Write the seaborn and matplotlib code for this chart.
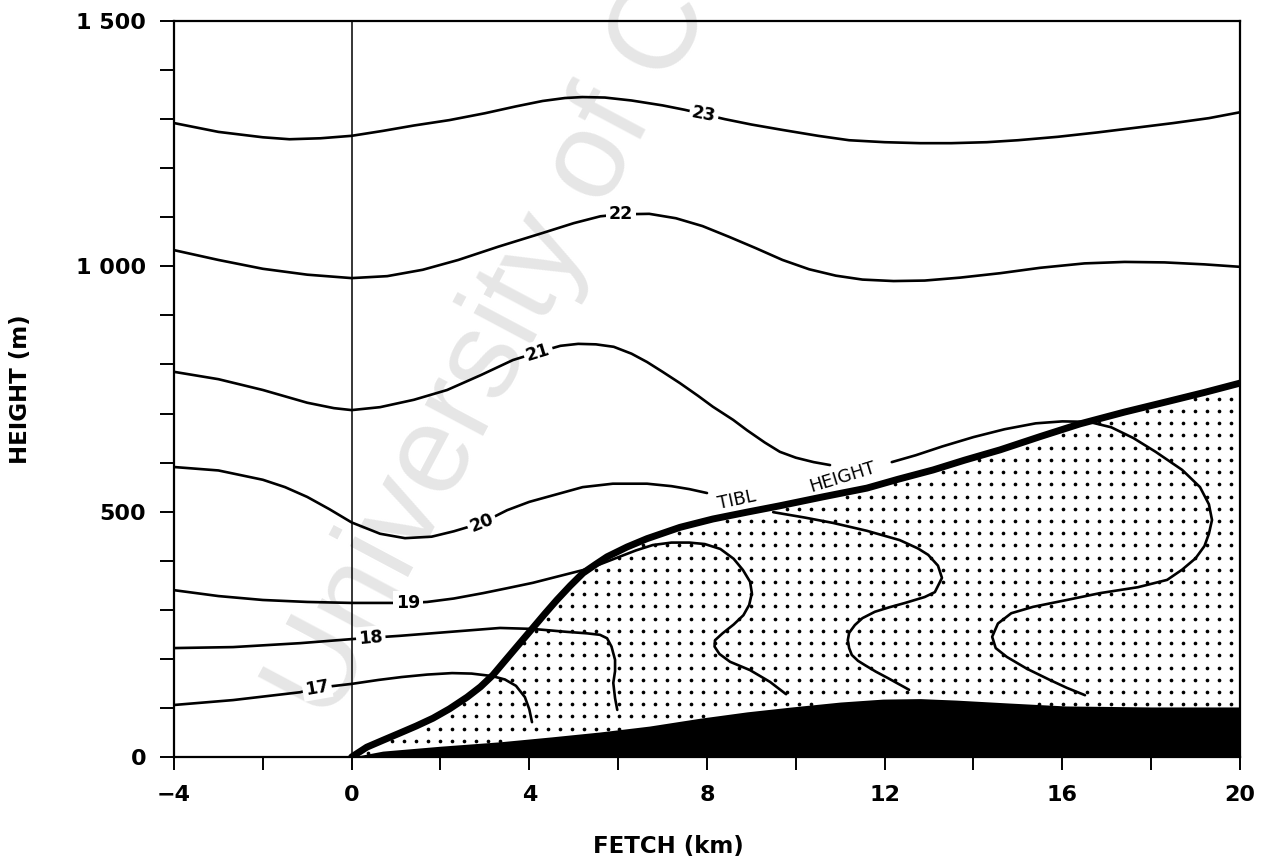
import numpy as np
import matplotlib
matplotlib.use('Agg')
import matplotlib.pyplot as plt
import seaborn as sns
from matplotlib.ticker import MultipleLocator

# ---------------- data (fetch km, height m) ----------------
iso23_x = [-4, -3, -2, -1.4, -0.7, 0, 0.7, 1.4, 2.2, 3.0, 3.7, 4.3, 4.8, 5.2, 5.7, 6.3, 7.0, 7.5, 8.4, 9.0,
           9.7, 10.5, 11.2, 12.0, 12.8, 13.5, 14.3, 15.0, 15.9, 16.8, 17.7, 18.5, 19.3, 20]
iso23_y = [1292, 1274, 1263, 1259, 1261, 1266, 1276, 1287, 1298, 1312, 1326, 1337, 1343, 1345, 1344, 1338, 1328,
           1319, 1300, 1289, 1278, 1266, 1257, 1253, 1251, 1251, 1253, 1257, 1264, 1273, 1283, 1292, 1302, 1314]

iso22_x = [-4, -3, -2, -1, 0, 0.8, 1.6, 2.4, 3.3, 4.3, 5.0, 5.6, 6.06, 6.7, 7.3, 7.9, 8.5, 9.1, 9.7, 10.3,
           10.9, 11.5, 12.2, 12.9, 13.7, 14.6, 15.5, 16.5, 17.4, 18.3, 19.2, 20]
iso22_y = [1033, 1013, 995, 983, 976, 980, 993, 1013, 1040, 1068, 1088, 1102, 1106, 1107, 1098, 1082, 1060, 1037,
           1013, 994, 981, 973, 970, 971, 977, 986, 997, 1006, 1009, 1008, 1004, 999]

iso21a_x = [-4, -3, -2, -1, -0.4, 0, 0.64, 1.4, 2.15, 2.9, 3.63, 4.2, 4.7, 5.1, 5.5, 5.9, 6.3, 6.65, 7.0, 7.39,
            7.8, 8.13, 8.59, 8.9, 9.3, 9.64, 10.0, 10.4, 10.77]
iso21a_y = [785, 770, 748, 722, 711, 707, 713, 728, 748, 778, 809, 825, 838, 842, 841, 836, 822, 805, 785, 762,
            736, 714, 687, 666, 641, 622, 610, 601, 595]
iso21b_x = [12.16, 12.7, 13.3, 14.0, 14.7, 15.4, 16.0, 16.6, 17.1, 17.6, 18.1, 18.7, 19.1, 19.3, 19.37, 19.3,
            19.2, 19.0, 18.7, 18.36, 17.7, 16.85, 16.1, 15.34, 14.85, 14.55, 14.42, 14.5, 14.75, 15.2, 15.72,
            16.1, 16.51]
iso21b_y = [601, 615, 633, 652, 668, 680, 684, 683, 672, 650, 622, 585, 550, 515, 483, 455, 430, 405, 382, 361,
            346, 334, 320, 306, 293, 272, 245, 222, 204, 180, 157, 141, 126]

iso20a_x = [-4, -3, -2, -1.5, -1, -0.5, 0, 0.64, 1.2, 1.8, 2.3, 2.93, 3.5, 4.0, 4.4, 4.8, 5.2, 5.88, 6.65,
            7.2, 7.6, 8.0]
iso20a_y = [591, 584, 565, 550, 530, 505, 478, 455, 446, 449, 460, 477, 503, 520, 530, 540, 550, 557, 557,
            552, 546, 538]
iso20b_x = [9.49, 10.2, 10.84, 11.6, 12.34, 12.75, 12.98, 13.2, 13.29, 13.13, 12.9, 12.46, 12.1, 11.78, 11.5,
            11.33, 11.2, 11.17, 11.2, 11.26, 11.4, 11.56, 11.8, 12.07, 12.55]
iso20b_y = [499, 488, 477, 461, 442, 425, 412, 390, 365, 336, 326, 314, 305, 296, 283, 269, 253, 238, 222,
            208, 196, 187, 174, 161, 137]

iso19_x = [-4, -3, -2, -1, 0, 0.8, 1.3, 1.7, 2.3, 2.96, 3.5, 4.08, 4.6, 5.21, 5.6, 5.97, 6.4, 6.78, 7.2, 7.6,
           7.95, 8.3, 8.6, 8.81, 8.97, 9.01, 8.95, 8.82, 8.6, 8.35, 8.18, 8.17, 8.28, 8.52, 8.97, 9.42, 9.78]
iso19_y = [340, 328, 320, 316, 314, 314, 314, 316, 323, 334, 344, 355, 367, 381, 393, 406, 421, 432, 437, 437,
           434, 424, 404, 381, 357, 334, 310, 289, 270, 252, 238, 225, 210, 194, 177, 153, 128]

iso18_x = [-4, -2.67, -1.16, -0.04, 0.43, 1.09, 2.21, 3.34, 4.08, 4.85, 5.3, 5.59, 5.75, 5.85, 5.93, 5.93,
           5.89, 5.93, 5.98]
iso18_y = [222, 224, 232, 240, 243, 247, 255, 263, 261, 255, 252, 249, 242, 225, 198, 175, 151, 120, 96]

iso17_x = [-4, -2.67, -1.16, -0.78, -0.38, 0, 0.6, 1.13, 1.7, 2.26, 2.7, 3.16, 3.45, 3.7, 3.9, 4.0, 4.06]
iso17_y = [106, 116, 132, 141, 145, 149, 157, 163, 168, 171, 170, 165, 158, 145, 122, 97, 71]

tibl_x = [0, 0.34, 0.7, 1.09, 1.45, 1.83, 2.2, 2.6, 2.9, 3.18, 3.45, 3.75, 4.06, 4.35, 4.62, 4.92, 5.21, 5.5,
          5.75, 6.2, 6.65, 7.39, 8.13, 8.9, 9.64, 10.6, 11.6, 12.3, 13.09, 13.8, 14.6, 15.5, 16.4, 17.4, 18.35,
          19.2, 20.0]
tibl_y = [0, 20, 34, 49, 63, 79, 98, 122, 143, 167, 196, 228, 261, 292, 320, 349, 375, 393, 408, 428, 445,
          468, 485, 499, 512, 530, 548, 566, 585, 605, 626, 653, 679, 703, 724, 743, 762]

ground_x = [0, 0.7, 2.0, 3.34, 4.5, 5.59, 6.7, 7.84, 8.9, 9.91, 11.0, 11.96, 12.8, 13.6, 14.8, 16.08, 18.0, 20.0]
ground_y = [0, 12, 22, 31, 41, 51, 63, 79, 92, 102, 112, 118, 119, 116, 110, 104, 102, 102]

# contour labels: text, x, y, rotation
label_text = ['23', '22', '21', '20', '19', '18', '17']
label_x = [7.93, 6.06, 4.2, 2.93, 1.27, 0.43, -0.78]
label_y = [1309, 1106, 825, 477, 314, 243, 141]
label_rot = [-11, 0, 17, 22, 0, 5, 10]

xtick_vals = [-4, 0, 4, 8, 12, 16, 20]
xtick_text = ['\u22124', '0', '4', '8', '12', '16', '20']
ytick_vals = [0, 500, 1000, 1500]
ytick_text = ['0', '500', '1 000', '1 500']

# ---------------- style ----------------
sns.set_theme(style='ticks')
plt.rcParams['font.family'] = ['DejaVu Sans']
plt.rcParams['text.color'] = 'black'
plt.rcParams['axes.labelcolor'] = 'black'
plt.rcParams['axes.edgecolor'] = 'black'
plt.rcParams['axes.linewidth'] = 1.6

fig = plt.figure(figsize=(12.75, 8.61), dpi=100)
ax = fig.add_axes([174 / 1275, 1 - 757 / 861, (1240 - 174) / 1275, (757 - 21) / 861])
ax.set_xlim(-4, 20)
ax.set_ylim(0, 1500)

# watermark
ax.text(330 / 1275, 1 - 725 / 861, 'University of Cape Town', transform=fig.transFigure,
        rotation=62, rotation_mode='anchor', ha='left', va='baseline', fontsize=90,
        color='#e6e6e6', zorder=0.5, clip_on=False, family=['Liberation Sans', 'DejaVu Sans'])

# stipple texture of the TIBL region
gx, gy = np.meshgrid(np.arange(0.09, 20, 0.27), np.arange(8, 800, 24.9))
gx, gy = gx.ravel(), gy.ravel()
inside = (gy < np.interp(gx, tibl_x, tibl_y) - 8) & (gy > np.interp(gx, ground_x, ground_y))
sns.scatterplot(x=gx[inside], y=gy[inside], s=7, color='black', marker='o', linewidth=0,
                ax=ax, zorder=1, legend=False)

# ground
ax.fill_between(ground_x, 0, ground_y, color='black', lw=0, zorder=2)

# x = 0 line
ax.axvline(0, color='black', lw=1.1, zorder=2.5)

def line(xs, ys, lw=1.9, z=3):
    sns.lineplot(x=np.asarray(xs, float), y=np.asarray(ys, float), sort=False, estimator=None,
                 color='black', lw=lw, ax=ax, zorder=z, legend=False)

for xs, ys in [(iso23_x, iso23_y), (iso22_x, iso22_y), (iso21a_x, iso21a_y), (iso21b_x, iso21b_y),
               (iso20a_x, iso20a_y), (iso20b_x, iso20b_y), (iso19_x, iso19_y), (iso18_x, iso18_y),
               (iso17_x, iso17_y)]:
    line(xs, ys)

line(tibl_x, tibl_y, lw=5, z=4)

for t, x, y, r in zip(label_text, label_x, label_y, label_rot):
    ax.text(x, y, t, rotation=r, rotation_mode='anchor', ha='center', va='center', fontsize=12.5,
            fontweight='bold', color='black', zorder=5,
            bbox=dict(boxstyle='square,pad=0.15', fc='white', ec='none'))

ax.text(8.68, 524, 'TIBL', rotation=12, rotation_mode='anchor', ha='center', va='center',
        fontsize=13, color='black', zorder=5)
ax.text(11.06, 571, 'HEIGHT', rotation=17, rotation_mode='anchor', ha='center', va='center',
        fontsize=13, color='black', zorder=5)

# ticks
ax.set_xticks(xtick_vals)
ax.set_xticklabels(xtick_text)
ax.xaxis.set_minor_locator(MultipleLocator(2))
ax.set_yticks(ytick_vals)
ax.set_yticklabels(ytick_text)
ax.yaxis.set_minor_locator(MultipleLocator(100))
ax.tick_params(which='both', direction='out', width=1.4, color='black', labelsize=16,
               labelcolor='black')
ax.tick_params(axis='x', which='both', length=9.5, pad=11)
ax.tick_params(axis='y', which='both', length=10, pad=10)
for lab in ax.get_xticklabels() + ax.get_yticklabels():
    lab.set_fontweight('bold')

ax.set_xlabel('FETCH (km)', fontsize=16.5, fontweight='bold', color='black')
ax.set_ylabel('HEIGHT (m)', fontsize=16.5, fontweight='bold', color='black')
ax.xaxis.set_label_coords((668 - 174) / 1066, -0.106)
ax.yaxis.set_label_coords(-0.133, 0.5)

for s in ax.spines.values():
    s.set_linewidth(1.6)
    s.set_color('black')

fig.savefig('out.png', dpi=100)
